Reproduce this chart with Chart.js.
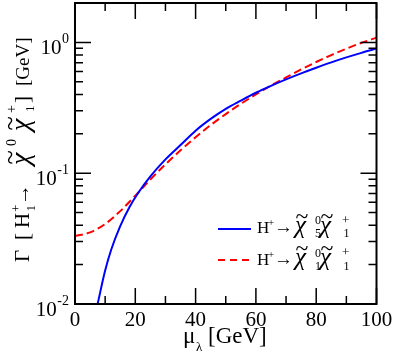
<!DOCTYPE html>
<html><head><meta charset="utf-8">
<script src="https://cdn.jsdelivr.net/npm/chart.js@4/dist/chart.umd.min.js"></script>
<style>html,body{margin:0;padding:0;background:#fff}</style>
</head><body>
<canvas id="c" width="395" height="354"></canvas>
<script>
// ---- data ----
const blueX = [7.5, 10, 12, 15, 18, 21, 25, 30, 35, 40, 45, 50, 55, 60, 65, 70, 75, 80, 85, 90, 95, 100];
const blueY = [0.0100, 0.0180, 0.0260, 0.0394, 0.0547, 0.0708, 0.0944, 0.1274, 0.1641, 0.2113, 0.2600, 0.3105, 0.3589, 0.4121, 0.4656, 0.5212, 0.5794, 0.6397, 0.7031, 0.7674, 0.8318, 0.8954];
const redX = [0, 5, 10, 15, 20, 25, 30, 35, 40, 45, 50, 55, 60, 65, 70, 75, 80, 85, 90, 95, 100];
const redY = [0.0331, 0.0353, 0.0409, 0.0513, 0.0673, 0.0895, 0.1169, 0.1496, 0.1884, 0.2333, 0.2831, 0.3388, 0.3999, 0.4677, 0.5395, 0.6209, 0.7079, 0.7998, 0.8954, 0.9908, 1.0864];
const xTicks = [0, 20, 40, 60, 80, 100];
const xMinorTicks = [10, 30, 50, 70, 90];
const yTicks = [0.01, 0.1, 1];
const yTickExp = ['-2', '-1', '0'];
const yMinorTicks = [0.02,0.03,0.04,0.05,0.06,0.07,0.08,0.09,0.2,0.3,0.4,0.5,0.6,0.7,0.8,0.9,2];
const legendSub = ['5', '1'];

const SERIF = '"Liberation Serif", "DejaVu Serif", serif';
function f(size, italic){ return (italic ? 'italic ' : '') + size + 'px ' + SERIF; }
function txt(ctx, t, x, y, size, italic, align, base){
  ctx.font = f(size, italic);
  ctx.textAlign = align || 'left';
  ctx.textBaseline = base || 'alphabetic';
  ctx.fillText(t, x, y);
}
function chiT(ctx, x, y, size){
  txt(ctx, 'χ', x, y, size, true);
  ctx.font = f(size, true);
  const w = ctx.measureText('χ').width;
  txt(ctx, '~', x + w/2 + 1.5, y - size*0.6, size*0.95, false, 'center', 'middle');
}

const decor = {
  id: 'decor',
  afterDraw(chart){
    const ctx = chart.ctx, a = chart.chartArea, xs = chart.scales.x, ys = chart.scales.y;
    ctx.save();
    ctx.fillStyle = '#000'; ctx.strokeStyle = '#000';
    // ticks (inside, on all four sides)
    ctx.lineWidth = 1.5;
    ctx.beginPath();
    const maj = 16, min = 8;
    xTicks.forEach(v => { const p = xs.getPixelForValue(v);
      ctx.moveTo(p, a.bottom); ctx.lineTo(p, a.bottom - maj);
      ctx.moveTo(p, a.top); ctx.lineTo(p, a.top + maj); });
    xMinorTicks.forEach(v => { const p = xs.getPixelForValue(v);
      ctx.moveTo(p, a.bottom); ctx.lineTo(p, a.bottom - min);
      ctx.moveTo(p, a.top); ctx.lineTo(p, a.top + min); });
    yTicks.forEach(v => { const p = ys.getPixelForValue(v);
      ctx.moveTo(a.left, p); ctx.lineTo(a.left + maj, p);
      ctx.moveTo(a.right, p); ctx.lineTo(a.right - maj, p); });
    yMinorTicks.forEach(v => { const p = ys.getPixelForValue(v);
      ctx.moveTo(a.left, p); ctx.lineTo(a.left + min, p);
      ctx.moveTo(a.right, p); ctx.lineTo(a.right - min, p); });
    ctx.stroke();
    // frame
    ctx.lineWidth = 2;
    ctx.strokeRect(a.left, a.top, a.right - a.left, a.bottom - a.top);
    // x tick labels
    xTicks.forEach(v => txt(ctx, String(v), xs.getPixelForValue(v), a.bottom + 22, 21, false, 'center'));
    // y tick labels
    yTicks.forEach((v, i) => {
      const p = ys.getPixelForValue(v);
      const right = 69;
      ctx.font = f(14); const sw = ctx.measureText(yTickExp[i]).width;
      txt(ctx, yTickExp[i], right, p + 0.5, 14, false, 'right');
      txt(ctx, '10', right - sw - 0.5, p + 12, 21, false, 'right');
    });
    // x title
    const xb = 343;
    txt(ctx, 'μ', 183, xb, 23);
    txt(ctx, 'λ', 196, xb + 8, 13);
    txt(ctx, '[GeV]', 208, xb, 23);
    // y title (rotated)
    ctx.save();
    ctx.translate(29, 262);
    ctx.rotate(-Math.PI/2);
    txt(ctx, 'Γ', 0, 0, 21);
    txt(ctx, '[', 22, 0, 21);
    txt(ctx, 'H', 34, 0, 21);
    txt(ctx, '+', 50, -9, 13);
    txt(ctx, '1', 50.5, 6, 13);
    txt(ctx, '→', 57, 0, 21);
    chiT(ctx, 97, 0, 28);
    txt(ctx, '0', 116, -13, 14);
    chiT(ctx, 131, 0, 28);
    txt(ctx, '+', 149, -13, 14);
    txt(ctx, '1', 150, 5, 13);
    txt(ctx, ']', 159, 0, 21);
    txt(ctx, '[GeV]', 176, 0, 19);
    ctx.restore();
    // legend
    const rows = [{y: 232.5, ly: 229, color: '#0000ff', dash: []}, {y: 265, ly: 260, color: '#ff0000', dash: [7, 5]}];
    rows.forEach((r, i) => {
      ctx.save();
      ctx.strokeStyle = r.color; ctx.lineWidth = 2; ctx.setLineDash(r.dash);
      ctx.beginPath(); ctx.moveTo(218, r.ly); ctx.lineTo(251, r.ly); ctx.stroke();
      ctx.restore();
      txt(ctx, 'H', 257, r.y, 17);
      txt(ctx, '+', 268, r.y - 7, 11);
      txt(ctx, '→', 274, r.y, 19);
      chiT(ctx, 295, r.y, 25);
      txt(ctx, '0', 315, r.y - 8.5, 12);
      txt(ctx, legendSub[i], 315, r.y + 4.5, 12);
      chiT(ctx, 320, r.y, 25);
      txt(ctx, '+', 342, r.y - 9, 13);
      txt(ctx, '1', 343.5, r.y + 4.5, 12);
    });
    ctx.restore();
  }
};

new Chart(document.getElementById('c'), {
  type: 'line',
  data: {
    datasets: [
      { data: blueX.map((x, i) => ({x, y: blueY[i]})), borderColor: '#0000ff', borderWidth: 2, pointRadius: 0, fill: false, cubicInterpolationMode: 'monotone' },
      { data: redX.map((x, i) => ({x, y: redY[i]})), borderColor: '#ff0000', borderWidth: 2, borderDash: [8, 4], pointRadius: 0, fill: false, cubicInterpolationMode: 'monotone' }
    ]
  },
  options: {
    responsive: false, animation: false,
    layout: { padding: { left: 75, right: 18.5, top: 3, bottom: 50 } },
    scales: {
      x: { type: 'linear', min: 0, max: 100, display: false },
      y: { type: 'logarithmic', min: 0.01, max: 2, display: false }
    },
    plugins: { legend: { display: false }, tooltip: { enabled: false } }
  },
  plugins: [decor]
});
</script>
</body></html>
